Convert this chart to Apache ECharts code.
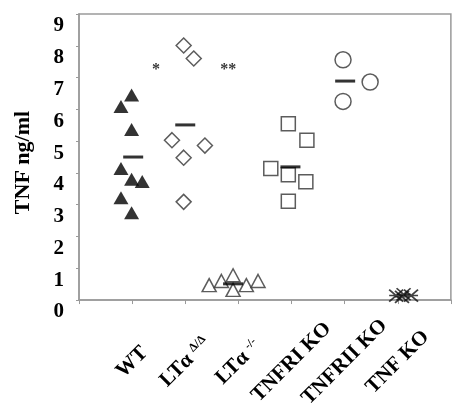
<!DOCTYPE html>
<html>
<head>
<meta charset="utf-8">
<script src="https://cdn.jsdelivr.net/npm/echarts@6/dist/echarts.min.js"></script>
<style>
html,body{margin:0;padding:0;background:#fff;}
#chart{width:453px;height:411px;}
</style>
</head>
<body>
<div id="chart"></div>
<script>
// Categories (placed at x = 1..6 on a numeric axis)
const categories = ['WT', 'LTα|Δ/Δ', 'LTα|-/-', 'TNFRI KO', 'TNFRII KO', 'TNF KO'];
const yTicks = [0, 1, 2, 3, 4, 5, 6, 7, 8, 9];

// Individual measurements: [x position (category + jitter), TNF ng/ml]
const wtPoints = [[0.79, 6.09], [0.99, 6.45], [0.99, 5.37], [0.79, 4.14], [0.99, 3.80], [1.19, 3.73], [0.79, 3.22], [0.99, 2.75]];
const ltaDeltaPoints = [[1.97, 8.01], [2.16, 7.60], [1.75, 5.03], [2.37, 4.86], [1.97, 4.48], [1.97, 3.09]];
const ltaKoPoints = [[2.45, 0.47], [2.68, 0.60], [2.90, 0.78], [2.90, 0.32], [3.15, 0.47], [3.37, 0.60]];
const tnfr1Points = [[3.94, 5.55], [4.29, 5.03], [3.61, 4.14], [3.94, 3.94], [4.27, 3.72], [3.94, 3.11]];
const tnfr2Points = [[4.97, 7.56], [5.48, 6.86], [4.97, 6.25]];
const tnfKoPoints = [[5.97, 0.14], [6.11, 0.18], [6.25, 0.14], [6.08, 0.10]];

// Group means
const meanPoints = [[1.02, 4.50], [2.00, 5.51], [2.90, 0.51], [3.98, 4.19], [5.01, 6.89]];

// Significance annotations
const sigMarks = [[1.45, 7.25, '*'], [2.81, 7.25, '**']];

const SERIF = '"Liberation Serif", "Times New Roman", serif';
const openStyle = { color: '#fff', borderColor: '#333', borderWidth: 1.5 };

const chart = echarts.init(document.getElementById('chart'), null, { renderer: 'canvas' });

chart.setOption({
  backgroundColor: '#fff',
  animation: false,
  grid: {
    left: 79, right: 1, top: 14, bottom: 105,
    show: true, borderColor: '#9a9a9a', borderWidth: 1.5, backgroundColor: 'transparent'
  },
  xAxis: {
    type: 'value',
    min: 0, max: 7, interval: 1,
    splitLine: { show: false },
    axisLine: { show: true, lineStyle: { color: '#9a9a9a', width: 1.5 } },
    axisTick: { show: true, length: 4, lineStyle: { color: '#9a9a9a' } },
    axisLabel: {
      rotate: 45,
      margin: 62,
      align: 'center',
      verticalAlign: 'middle',
      color: '#000',
      fontFamily: SERIF,
      fontWeight: 'bold',
      fontSize: 21,
      formatter: function (v) {
        const c = categories[v - 1];
        if (!c) return '';
        const parts = c.split('|');
        if (parts.length === 2) return parts[0] + ' {sup|' + parts[1] + '}';
        return c;
      },
      rich: {
        sup: { fontFamily: SERIF, fontWeight: 'bold', fontSize: 12, verticalAlign: 'top', color: '#000' }
      }
    }
  },
  yAxis: {
    type: 'value',
    min: yTicks[0], max: yTicks[yTicks.length - 1], interval: 1,
    name: 'TNF ng/ml',
    nameLocation: 'middle',
    nameGap: 45,
    nameTextStyle: { color: '#000', fontFamily: SERIF, fontWeight: 'bold', fontSize: 22, padding: [0, 11, 0, 0] },
    splitLine: { show: false },
    axisLine: { show: true, lineStyle: { color: '#9a9a9a', width: 1.5 } },
    axisTick: { show: true, inside: false, length: 3, lineStyle: { color: '#9a9a9a' } },
    axisLabel: {
      margin: 15,
      color: '#000',
      fontFamily: SERIF,
      fontWeight: 'bold',
      fontSize: 21,
      verticalAlign: 'top',
      lineHeight: 24
    }
  },
  series: [
    { type: 'scatter', name: 'WT', data: wtPoints, symbol: 'triangle', symbolSize: [15, 13], itemStyle: { color: '#000' } },
    { type: 'scatter', name: 'LTa d/d', data: ltaDeltaPoints, symbol: 'diamond', symbolSize: 15, itemStyle: openStyle },
    { type: 'scatter', name: 'LTa -/-', data: ltaKoPoints, symbol: 'triangle', symbolSize: [14, 13], itemStyle: openStyle },
    { type: 'scatter', name: 'TNFRI KO', data: tnfr1Points, symbol: 'rect', symbolSize: 14, itemStyle: openStyle },
    { type: 'scatter', name: 'TNFRII KO', data: tnfr2Points, symbol: 'circle', symbolSize: 16, itemStyle: openStyle },
    { type: 'scatter', name: 'TNF KO', data: tnfKoPoints,
      symbol: 'path://M0,0L14,12M14,0L0,12M0,6L14,6', symbolSize: [14, 12], symbolKeepAspect: false,
      itemStyle: { color: 'none', borderColor: '#111', borderWidth: 1.6 } },
    { type: 'scatter', name: 'mean', data: meanPoints, symbol: 'rect', symbolSize: [20, 3], itemStyle: { color: '#000' }, z: 5 },
    { type: 'scatter', name: 'sig', data: sigMarks.map(s => [s[0], s[1]]), symbolSize: 0,
      label: { show: true, position: 'inside', color: '#000', fontFamily: SERIF, fontWeight: 'bold', fontSize: 16,
        formatter: p => sigMarks[p.dataIndex][2] } }
  ]
});
</script>
</body>
</html>
